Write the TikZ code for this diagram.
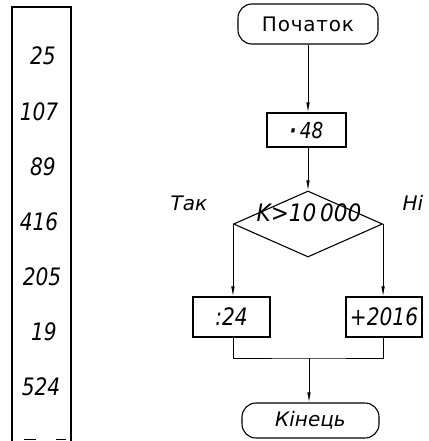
\documentclass[tikz,border=0pt]{standalone}
\usepackage{fontspec}
\usepackage{graphicx}
\setmainfont{DejaVu Sans}
\newfontfamily\wfont[LetterSpace=4]{DejaVu Sans}
\newcommand\nx[1]{\scalebox{0.84}[1]{#1}}
\usetikzlibrary{shapes.geometric,arrows.meta}
\begin{document}
\begin{tikzpicture}[x=1pt,y=-1pt,
  proc/.style={draw,line width=1.1pt,inner sep=0pt,font=\fontsize{24}{24}\selectfont\itshape},
  term/.style={draw,line width=1.1pt,rounded corners=14pt,inner sep=0pt,font=\fontsize{20}{20}\selectfont\wfont},
  num/.style={inner sep=0pt,font=\fontsize{24}{24}\selectfont\itshape},
  lbl/.style={inner sep=0pt,font=\fontsize{20}{20}\selectfont\itshape},
  conn/.style={line width=0.8pt},
  arr/.style={conn,-{Latex[length=10pt,width=3.5pt]}}]
\useasboundingbox (0,0) rectangle (428,441);
% table
\draw[line width=1.1pt] (12,441) -- (12,7) -- (71,7) -- (71,441);
\draw[line width=1pt] (24,439) -- (36,439) (56,439) -- (66,439);
\node[num] (n1) at (43,56) {\nx{25}};
\node[num] (n2) at (39,112) {\nx{107}};
\node[num] (n3) at (43,167) {\nx{89}};
\node[num] (n4) at (39,222) {\nx{416}};
\node[num] (n5) at (42,277) {\nx{205}};
\node[num] (n6) at (44,332) {\nx{19}};
\node[num] (n7) at (41,387) {\nx{524}};
% flowchart
\node[term,minimum width=140pt,minimum height=40pt] (start) at (308,24) {Початок};
\node[proc,minimum width=79pt,minimum height=34pt,font=\fontsize{22}{22}\selectfont\itshape] (m48) at (306.5,130) {\nx{\textbf{·}\,48}\hspace{16pt}};
\node[diamond,draw,line width=1.1pt,minimum width=149pt,minimum height=66pt,inner sep=0pt] (dec) at (308,224) {};
\node[num] (cond) at (309,213) {\scalebox{0.9}[1]{K>10\,000}};
\node[proc,minimum width=77pt,minimum height=40pt] (d24) at (231.5,317) {\nx{:24}};
\node[proc,minimum width=76pt,minimum height=40pt] (p2016) at (384,317) {\nx{+2016}};
\node[term,minimum width=137pt,minimum height=35pt,font=\fontsize{20}{20}\selectfont\itshape] (end) at (310.5,420.5) {Кінець};
\node[lbl] (yes) at (189,203) {Так};
\node[lbl] (no) at (413,203) {Ні};
\coordinate (mj) at (309,358);
% connectors
\draw[arr] (start.south) -- (start.south |- m48.north);
\draw[arr] (dec.north |- m48.south) -- (dec.north);
\draw[arr] (dec.west) -- (dec.west |- d24.north);
\draw[arr] (dec.east) -- (dec.east |- p2016.north);
\draw[conn] (dec.west |- d24.south) |- (mj) -| (dec.east |- p2016.south);
\draw[arr] (mj) -- (mj |- end.north);
\end{tikzpicture}
\end{document}
